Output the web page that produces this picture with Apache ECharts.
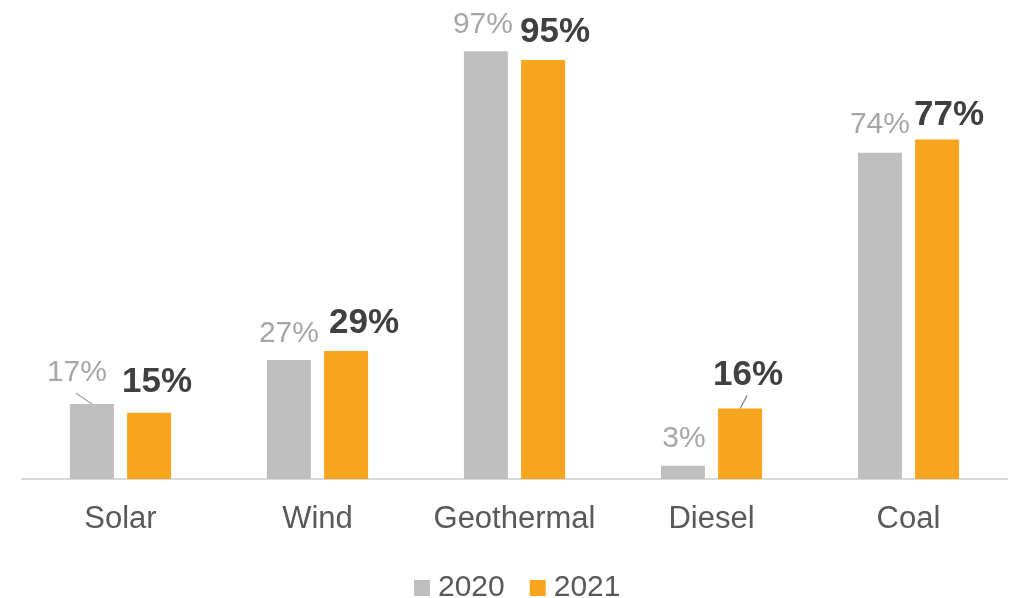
<!DOCTYPE html>
<html>
<head>
<meta charset="utf-8">
<script src="https://cdn.jsdelivr.net/npm/echarts@6/dist/echarts.min.js"></script>
<style>
  html, body { margin: 0; padding: 0; background: #fff; }
  #chart { width: 1015px; height: 598px; }
</style>
</head>
<body>
<div id="chart"></div>
<script>
const categories = ['Solar', 'Wind', 'Geothermal', 'Diesel', 'Coal'];
const seriesNames = ['2020', '2021'];
const values2020 = [17, 27, 97, 3, 74];
const values2021 = [15, 29, 95, 16, 77];

// which data labels carry a short guide line to their bar
const guide2020 = [true, false, false, false, false];
const guide2021 = [false, false, false, true, false];
// label placement tweaks: [dx from bar centre, distance above bar top]
const shift2020 = [[-15, 31], [0, 26], [-3, 26], [1, 27], [0, 28]];
const shift2021 = [[8, 31], [18, 28], [12, 28], [8, 33], [12, 24]];

const FONT = '"Liberation Sans", Arial, Helvetica, sans-serif';

function makeLayout(shift) {
  return function (p) {
    const s = shift[p.dataIndex];
    const cx = p.rect.x + p.rect.width / 2;
    return { x: cx + s[0], y: p.rect.y - s[1], align: 'center', verticalAlign: 'middle' };
  };
}

const chart = echarts.init(document.getElementById('chart'), null, { renderer: 'canvas' });
chart.setOption({
  animation: false,
  backgroundColor: '#ffffff',
  textStyle: { fontFamily: FONT },
  grid: { left: 22, right: 8, top: 38, bottom: 119, containLabel: false },
  legend: {
    data: seriesNames,
    bottom: -10,
    left: 409,
    itemWidth: 16,
    itemHeight: 16,
    itemGap: 25,
    icon: 'rect',
    textStyle: { fontSize: 30, color: '#595959', fontFamily: FONT, padding: [0, 0, 0, 3] }
  },
  xAxis: {
    type: 'category',
    data: categories,
    axisLine: { show: true, lineStyle: { color: '#D9D9D9', width: 2 } },
    axisTick: { show: false },
    axisLabel: { interval: 0, fontSize: 31, color: '#595959', margin: 25, fontFamily: FONT }
  },
  yAxis: {
    type: 'value',
    min: 0,
    max: 100,
    show: false,
    splitLine: { show: false }
  },
  series: [
    {
      name: seriesNames[0],
      type: 'bar',
      data: values2020,
      barWidth: 44,
      barGap: '30%',
      itemStyle: { color: '#BFBFBF' },
      label: {
        show: true,
        position: 'top',
        formatter: '{c}%',
        fontSize: 30,
        color: '#A6A6A6',
        fontFamily: FONT
      },
      labelLayout: makeLayout(shift2020)
    },
    {
      name: seriesNames[1],
      type: 'bar',
      data: values2021,
      barWidth: 44,
      barGap: '30%',
      itemStyle: { color: '#F7A41E' },
      label: {
        show: true,
        position: 'top',
        formatter: '{c}%',
        fontSize: 35,
        fontWeight: 'bold',
        color: '#404040',
        fontFamily: FONT
      },
      labelLayout: makeLayout(shift2021)
    }
  ]
});

// guide lines, derived from the bar layout that ECharts computed
function guideLines(seriesIndex, guide, shift, color) {
  const data = chart.getModel().getSeriesByIndex(seriesIndex).getData();
  const out = [];
  guide.forEach(function (g, i) {
    if (!g) return;
    const l = data.getItemLayout(i);
    const top = Math.min(l.y, l.y + l.height);
    const cx = l.x + l.width / 2;
    const lx = cx + shift[i][0];
    const ly = top - shift[i][1];
    out.push({
      type: 'line',
      silent: true,
      shape: { x1: lx - 1, y1: ly + 20, x2: cx, y2: top },
      style: { stroke: color, lineWidth: 1.3 }
    });
  });
  return out;
}
chart.setOption({
  graphic: guideLines(0, guide2020, shift2020, '#A6A6A6')
    .concat(guideLines(1, guide2021, shift2021, '#808080'))
});
</script>
</body>
</html>
